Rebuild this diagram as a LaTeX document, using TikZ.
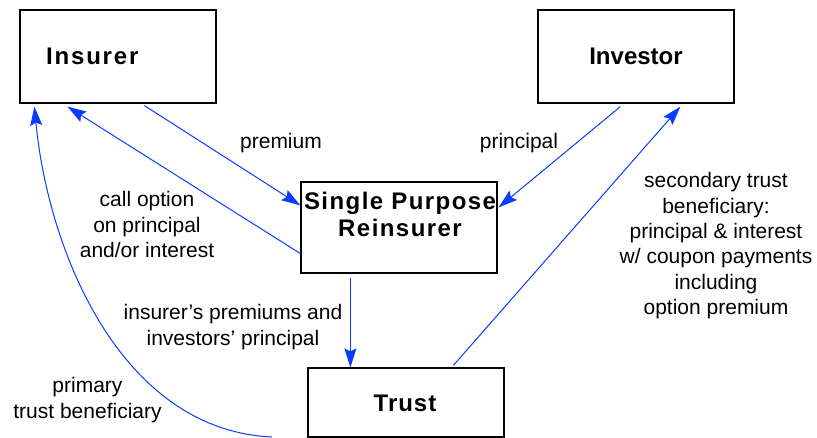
\documentclass[tikz,border=0pt]{standalone}
\usepackage{fontspec}
\setmainfont{Liberation Sans}
\newfontfamily\insfont[LetterSpace=7.5]{Liberation Sans}
\newfontfamily\sprfont[LetterSpace=6]{Liberation Sans}
\newfontfamily\trustfont[LetterSpace=4]{Liberation Sans}
\usetikzlibrary{arrows.meta,calc}
\definecolor{flowblue}{RGB}{10,60,255}
\begin{document}
\begin{tikzpicture}[x=1pt,y=-1pt,
  box/.style={draw=black,line width=1.2pt,minimum width=196pt,inner sep=0pt},
  lbl/.style={font=\fontsize{21}{25.3}\selectfont,align=center,inner sep=0pt},
  boldtxt/.style={font=\fontsize{24}{27}\selectfont\bfseries,align=center,inner sep=0pt},
  flow/.style={draw=flowblue,line width=1pt,-{Stealth[length=19pt,width=12pt,inset=3pt]}}]
\useasboundingbox (0,0) rectangle (817,438);
% boxes
\node[box,minimum height=93pt] (ins) at (118,56.5) {};
\node[boldtxt,font=\insfont\fontsize{24}{27}\selectfont\bfseries,anchor=base west] (inst) at (46,65) {Insurer};
\node[box,minimum height=93pt] (inv) at (636,56.5) {};
\node[boldtxt,anchor=base] (invt) at (636,65) {Investor};
\node[box,minimum height=91pt] (spr) at (399,227.5) {};
\node[boldtxt,font=\sprfont\fontsize{24}{27}\selectfont\bfseries] (sprt) at (400,214.8) {Single Purpose\\Reinsurer};
\node[box,minimum height=69pt] (trust) at (406,402.5) {};
\node[boldtxt,font=\trustfont\fontsize{24}{27}\selectfont\bfseries,anchor=base] (trustt) at (405,411) {Trust};
% connectors
\draw[flow] ($(ins.south west)+(125,2)$) -- ($(spr.north west)+(0,24)$);
\draw[flow] ($(spr.south west)+(0,-20)$) -- ($(ins.south west)+(48,3)$);
\draw[flow] ($(inv.south west)+(83,3)$) -- ($(spr.north east)+(1,26)$);
\draw[flow] ($(trust.north west)+(146,-2)$) -- ($(inv.south west)+(143,3)$);
\draw[flow] ($(spr.south west)+(50,4)$) -- ($(trust.north west)+(43,0)$);
\coordinate (cstart) at (272,437);
\draw[flow] (cstart) .. controls (120,430) and (48,250) .. ($(ins.south west)+(15,3)$);
% labels
\node[lbl,anchor=base] (lprem) at (281,149) {premium};
\node[lbl,anchor=base] (lprin) at (519,149) {principal};
\node[lbl] (lcall) at (147,224.5) {call option\\on principal\\and/or interest};
\node[lbl] (lins) at (233,327) {insurer’s premiums and\\investors’ principal};
\node[lbl] (lprim) at (87.5,400) {primary\\trust beneficiary};
\node[lbl] (lsec) at (716,245.8) {secondary trust\\beneficiary:\\principal \& interest\\w/ coupon payments\\including\\option premium};
\end{tikzpicture}
\end{document}
